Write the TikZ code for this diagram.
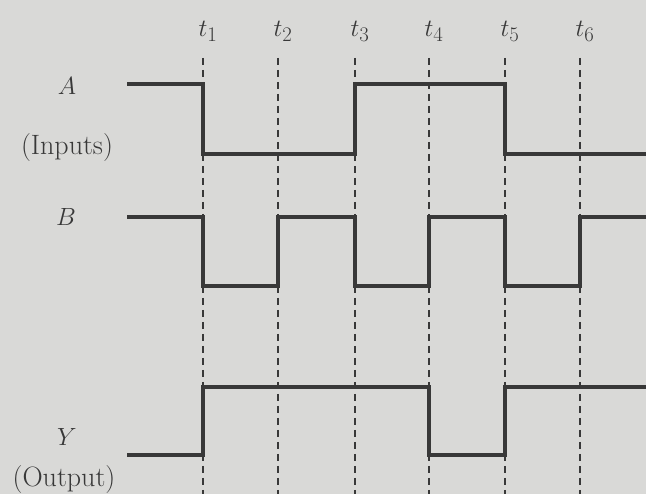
\documentclass[tikz,border=0pt]{standalone}
\usepackage{tikz}
\usetikzlibrary{calc}
\definecolor{paper}{HTML}{D9D9D7}
\definecolor{inkline}{HTML}{383838}
\newcommand{\labsize}{\fontsize{28}{32}\selectfont}

\begin{document}
\begin{tikzpicture}[x=1pt,y=-1pt]
    \fill[paper] (0,0) rectangle (646,494);
    \useasboundingbox (0,0) rectangle (646,494);
    % time marks
    \foreach \x/\i in {203/1,278/2,355/3,429/4,505/5,580/6} {
      \draw[inkline,line width=1.4pt,dash pattern=on 7pt off 5pt] (\x,58) -- (\x,494);
      \node[inkline] (t\i) at (\x+5,31) {\labsize $t_{\i}$};
    }
    % input A
    \draw[inkline,line width=3.3pt,line join=miter]
      (127,84) -- (203,84) -- (203,154) -- (355,154) -- (355,84)
      -- (505,84) -- (505,154) -- (646,154);
    % input B
    \draw[inkline,line width=3.3pt,line join=miter]
      (127,217) -- (203,217) -- (203,286) -- (278,286) -- (278,217)
      -- (355,217) -- (355,286) -- (429,286) -- (429,217) -- (505,217)
      -- (505,286) -- (580,286) -- (580,217) -- (646,217);
    % output Y
    \draw[inkline,line width=3.3pt,line join=miter]
      (127,455) -- (203,455) -- (203,387) -- (429,387) -- (429,455)
      -- (505,455) -- (505,387) -- (646,387);
    \node[inkline] (labA) at (67,86) {\labsize $A$};
    \node[inkline] (labIn) at (67,148) {\labsize (Inputs)};
    \node[inkline] (labB) at (66,217) {\labsize $B$};
    \node[inkline] (labY) at (67,437) {\labsize $Y$};
    \node[inkline] (labOut) at (64,480) {\labsize (Output)};
  \end{tikzpicture}
\end{document}
